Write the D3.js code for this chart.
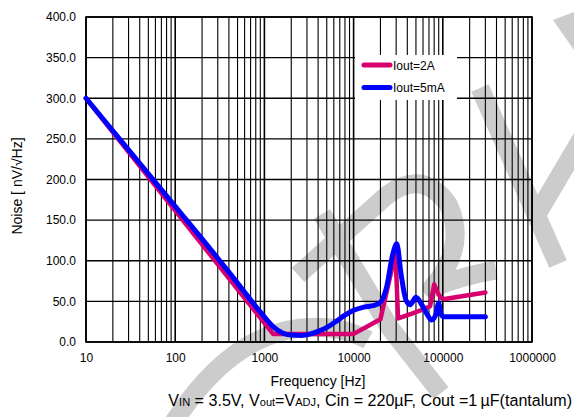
<!DOCTYPE html>
<html>
<head>
<meta charset="utf-8">
<script src="https://cdn.jsdelivr.net/npm/d3@7"></script>
<style>
  html, body { margin: 0; padding: 0; background: #fff; }
  svg { display: block; font-family: "Liberation Sans", Arial, sans-serif; }
</style>
</head>
<body>
<svg id="chart" width="574" height="417"></svg>
<script>
// Output noise spectral density vs frequency
const seriesNames = ["Iout=2A", "Iout=5mA"];
const seriesColors = ["#d6006f", "#0000ff"];

// Iout = 2A
const freq2A  = [10, 1250, 10000, 20000, 29500, 31500, 45000, 60000, 72000, 80000, 88000, 96000, 105000, 300000];
const noise2A = [300, 10, 10, 28, 110, 29, 35, 40, 44, 71, 60, 54, 53, 61];

// Iout = 5mA
const freq5mA  = [10, 100, 400, 900, 1250, 1600, 2000, 2600, 3300, 4200, 5200, 6500, 8000, 10000, 13000, 17000, 20000, 23500, 27500, 30500, 34000, 38500, 43000, 50000, 58000, 66000, 75000, 83000, 90000, 95000, 102000, 150000, 300000];
const noise5mA = [300, 167, 86, 37, 19, 11, 8.5, 8, 10, 14, 19, 26, 33, 39, 43, 45, 49, 68, 108, 121, 84, 52, 46, 55, 46, 35, 27, 33, 48, 35, 31, 31, 31];

const xTicks = [10, 100, 1000, 10000, 100000, 1000000];
const yTicks = [0, 50, 100, 150, 200, 250, 300, 350, 400];

const svg = d3.select("#chart");
const W = 574, H = 417;
const plot = { left: 86, right: 532, top: 17, bottom: 342 };

svg.append("rect").attr("width", W).attr("height", H).attr("fill", "#fff");

const x = d3.scaleLog().domain([10, 1e6]).range([plot.left, plot.right]);
const y = d3.scaleLinear().domain([0, 400]).range([plot.bottom, plot.top]);

// Background watermark strokes
const wm = svg.append("g").attr("fill", "none").attr("stroke", "#cccccc")
  .attr("stroke-width", 19).attr("stroke-linecap", "butt").attr("stroke-linejoin", "round");
wm.append("path").attr("d", "M 172 425 Q 240 318 330 328 Q 352 331 368 340");
wm.append("path").attr("d", "M 322 214 L 390 328 L 441 393");
wm.append("path").attr("d", "M 298 275 L 386 196 Q 422 168 448 204 Q 468 246 432 288 Q 462 276 496 270");
wm.append("path").attr("d", "M 480 88 L 558 264");
wm.append("path").attr("d", "M 582 138 L 536 216");
svg.append("path").attr("d", "M 553 20 L 574 12 L 574 50 Z").attr("fill", "#cccccc");

// Grid
const grid = svg.append("g").attr("stroke", "#000");
const vLines = [];
for (let d = 1; d <= 5; d++) {
  for (let k = 1; k <= 9; k++) vLines.push({ f: k * Math.pow(10, d), major: k === 1 });
}
vLines.push({ f: 1e6, major: true });
grid.selectAll("line.v").data(vLines).join("line")
  .attr("class", "v")
  .attr("x1", d => x(d.f)).attr("x2", d => x(d.f))
  .attr("y1", plot.top).attr("y2", plot.bottom)
  .attr("stroke-width", d => d.major ? 1.6 : 1.1);
grid.selectAll("line.h").data(yTicks).join("line")
  .attr("class", "h")
  .attr("x1", plot.left).attr("x2", plot.right)
  .attr("y1", d => y(d)).attr("y2", d => y(d))
  .attr("stroke-width", d => d % 100 === 0 ? 1.6 : 1.1);
svg.append("rect")
  .attr("x", plot.left).attr("y", plot.top)
  .attr("width", plot.right - plot.left).attr("height", plot.bottom - plot.top)
  .attr("fill", "none").attr("stroke", "#000").attr("stroke-width", 1.6);

// Curves
const lineLinear = d3.line().x(d => x(d[0])).y(d => y(d[1]));
const lineSmooth = d3.line().x(d => x(d[0])).y(d => y(d[1])).curve(d3.curveMonotoneX);

svg.append("path")
  .datum(d3.zip(freq2A, noise2A))
  .attr("d", lineLinear)
  .attr("fill", "none").attr("stroke", seriesColors[0])
  .attr("stroke-width", 4.5).attr("stroke-linejoin", "round").attr("stroke-linecap", "round");

svg.append("path")
  .datum(d3.zip(freq5mA, noise5mA))
  .attr("d", lineSmooth)
  .attr("fill", "none").attr("stroke", seriesColors[1])
  .attr("stroke-width", 5).attr("stroke-linejoin", "round").attr("stroke-linecap", "round");

// Axes (labels only)
const yAxis = svg.append("g")
  .attr("transform", `translate(${plot.left},0)`)
  .call(d3.axisLeft(y).tickValues(yTicks).tickFormat(d3.format(".1f")).tickSize(0).tickPadding(10));
const xAxis = svg.append("g")
  .attr("transform", `translate(0,${plot.bottom})`)
  .call(d3.axisBottom(x).tickValues(xTicks).tickFormat(d => String(d)).tickSize(0).tickPadding(11));
[yAxis, xAxis].forEach(g => {
  g.select(".domain").remove();
  g.selectAll("text").attr("font-size", 12).attr("fill", "#000")
    .attr("font-family", "'Liberation Sans', Arial, sans-serif");
});

// Axis titles
svg.append("text")
  .attr("x", (plot.left + plot.right) / 2 + 9).attr("y", 386)
  .attr("text-anchor", "middle").attr("font-size", 14).text("Frequency [Hz]");
svg.append("text")
  .attr("transform", "translate(22,186) rotate(-90)")
  .attr("text-anchor", "middle").attr("font-size", 14).text("Noise [ nV/\u221AHz]");

// Legend
const legend = svg.append("g");
legend.append("rect").attr("x", 355).attr("y", 55).attr("width", 102).attr("height", 45).attr("fill", "#fff");
seriesNames.forEach((name, i) => {
  const ly = 65 + i * 22.5;
  legend.append("line")
    .attr("x1", 364).attr("x2", 390).attr("y1", ly).attr("y2", ly)
    .attr("stroke", seriesColors[i]).attr("stroke-width", 5).attr("stroke-linecap", "round");
  legend.append("text").attr("x", 393).attr("y", ly + 4.5)
    .attr("font-size", 12).text(name);
});

// Test condition caption
const cap = svg.append("text").attr("y", 406).attr("font-size", 16);
const parts = [
  ["V", false], ["IN", true], [" = 3.5V, V", false], ["out", true], ["=V", false], ["ADJ", true],
  [", Cin = 220\u00B5F, Cout =1\u2009\u00B5F(tantalum)", false]
];
parts.forEach(([t, sub]) => {
  cap.append("tspan").attr("font-size", sub ? 11 : 16).text(t);
});
const targetWidth = 404;
const len = cap.node().getComputedTextLength();
const scale = targetWidth / len;
cap.attr("font-size", 16 * scale);
cap.selectAll("tspan").attr("font-size", (d, i) => (parts[i][1] ? 11 : 16) * scale);
cap.attr("x", 572 - cap.node().getComputedTextLength());
</script>
</body>
</html>
